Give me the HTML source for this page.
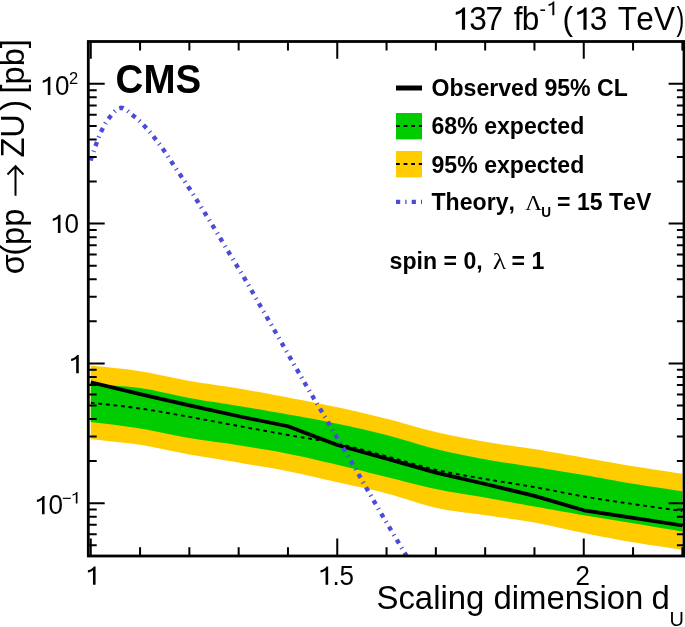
<!DOCTYPE html>
<html><head><meta charset="utf-8"><style>
html,body{margin:0;padding:0;background:#fff;}
body{width:685px;height:627px;overflow:hidden;}
svg{display:block;will-change:transform;}
text{font-family:"Liberation Sans",sans-serif;fill:#000;font-kerning:none;}
.b{font-weight:bold;}
.serif{font-family:"Liberation Serif",serif;}
</style></head><body>
<svg width="685" height="627" viewBox="0 0 685 627">
<defs><clipPath id="cp"><rect x="89" y="42" width="594" height="514"/></clipPath></defs>
<rect x="0" y="0" width="685" height="627" fill="#fff"/>
<g clip-path="url(#cp)">
<polygon points="90.76,365.50 94.56,365.91 99.62,366.43 105.64,367.04 112.33,367.74 119.41,368.52 126.58,369.36 133.56,370.26 140.06,371.20 146.22,372.24 152.39,373.39 158.55,374.64 164.71,375.93 170.87,377.24 177.03,378.53 183.20,379.76 189.36,380.90 195.52,381.94 201.68,382.91 207.85,383.84 214.01,384.74 220.17,385.64 226.34,386.55 232.50,387.50 238.66,388.50 244.82,389.55 250.99,390.64 257.15,391.74 263.31,392.87 269.47,394.01 275.63,395.17 281.80,396.33 287.96,397.50 294.12,398.67 300.28,399.83 306.45,401.01 312.61,402.19 318.77,403.40 324.93,404.63 331.10,405.90 337.26,407.20 343.42,408.54 349.58,409.91 355.75,411.30 361.91,412.73 368.07,414.18 374.23,415.66 380.40,417.16 386.56,418.70 392.72,420.30 398.89,421.98 405.05,423.71 411.21,425.46 417.37,427.19 423.54,428.88 429.70,430.49 435.86,432.00 442.02,433.41 448.19,434.75 454.35,436.04 460.51,437.27 466.67,438.46 472.84,439.61 479.00,440.72 485.16,441.80 491.32,442.82 497.49,443.77 503.65,444.66 509.81,445.53 515.97,446.38 522.13,447.24 528.30,448.14 534.46,449.10 540.62,450.11 546.78,451.16 552.95,452.23 559.11,453.33 565.27,454.43 571.43,455.53 577.60,456.62 583.76,457.70 589.92,458.77 596.09,459.86 602.25,460.94 608.41,462.02 614.57,463.09 620.73,464.15 626.90,465.19 633.06,466.20 639.56,467.24 646.54,468.32 653.71,469.42 660.79,470.48 667.48,471.48 673.50,472.38 678.56,473.13 682.36,473.70 682.36,549.70 678.56,549.14 673.50,548.41 667.48,547.55 660.79,546.58 653.71,545.54 646.54,544.46 639.56,543.37 633.06,542.30 626.90,541.24 620.73,540.13 614.57,539.00 608.41,537.84 602.25,536.65 596.09,535.45 589.92,534.23 583.76,533.00 577.60,531.73 571.43,530.41 565.27,529.05 559.11,527.68 552.95,526.33 546.78,525.01 540.62,523.76 534.46,522.60 528.30,521.53 522.13,520.54 515.97,519.61 509.81,518.71 503.65,517.84 497.49,516.98 491.32,516.10 485.16,515.20 479.00,514.32 472.84,513.51 466.67,512.73 460.51,511.94 454.35,511.09 448.19,510.14 442.02,509.06 435.86,507.80 429.70,506.31 423.54,504.62 417.37,502.77 411.21,500.84 405.05,498.87 398.89,496.94 392.72,495.09 386.56,493.40 380.40,491.85 374.23,490.37 368.07,488.96 361.91,487.59 355.75,486.24 349.58,484.91 343.42,483.57 337.26,482.20 331.10,480.80 324.93,479.38 318.77,477.95 312.61,476.54 306.45,475.14 300.28,473.78 294.12,472.46 287.96,471.20 281.80,470.01 275.63,468.87 269.47,467.78 263.31,466.73 257.15,465.69 250.99,464.67 244.82,463.64 238.66,462.60 232.50,461.57 226.34,460.55 220.17,459.56 214.01,458.56 207.85,457.56 201.68,456.54 195.52,455.49 189.36,454.40 183.20,453.24 177.03,452.00 170.87,450.73 164.71,449.44 158.55,448.17 152.39,446.95 146.22,445.82 140.06,444.80 133.56,443.87 126.58,442.99 119.41,442.16 112.33,441.40 105.64,440.71 99.62,440.11 94.56,439.60 90.76,439.20" fill="#ffcc00"/>
<polygon points="90.76,384.20 94.56,384.45 99.62,384.74 105.64,385.07 112.33,385.47 119.41,385.95 126.58,386.52 133.56,387.20 140.06,388.00 146.22,388.97 152.39,390.11 158.55,391.38 164.71,392.74 170.87,394.12 177.03,395.50 183.20,396.80 189.36,398.00 195.52,399.09 201.68,400.13 207.85,401.13 214.01,402.10 220.17,403.06 226.34,404.02 232.50,404.99 238.66,406.00 244.82,407.02 250.99,408.05 257.15,409.08 263.31,410.12 269.47,411.17 275.63,412.23 281.80,413.30 287.96,414.40 294.12,415.51 300.28,416.61 306.45,417.73 312.61,418.86 318.77,420.02 324.93,421.21 331.10,422.43 337.26,423.70 343.42,425.01 349.58,426.34 355.75,427.71 361.91,429.11 368.07,430.55 374.23,432.02 380.40,433.54 386.56,435.10 392.72,436.74 398.89,438.48 405.05,440.29 411.21,442.12 417.37,443.94 423.54,445.72 429.70,447.42 435.86,449.00 442.02,450.48 448.19,451.89 454.35,453.24 460.51,454.53 466.67,455.78 472.84,456.99 479.00,458.16 485.16,459.30 491.32,460.39 497.49,461.42 503.65,462.40 509.81,463.35 515.97,464.28 522.13,465.20 528.30,466.14 534.46,467.10 540.62,468.08 546.78,469.05 552.95,470.02 559.11,470.99 565.27,471.97 571.43,472.96 577.60,473.97 583.76,475.00 589.92,476.07 596.09,477.17 602.25,478.29 608.41,479.43 614.57,480.56 620.73,481.67 626.90,482.76 633.06,483.80 639.56,484.85 646.54,485.94 653.71,487.04 660.79,488.10 667.48,489.09 673.50,489.98 678.56,490.73 682.36,491.30 682.36,531.60 678.56,530.95 673.50,530.08 667.48,529.05 660.79,527.90 653.71,526.69 646.54,525.47 639.56,524.29 633.06,523.20 626.90,522.19 620.73,521.19 614.57,520.20 608.41,519.22 602.25,518.23 596.09,517.24 589.92,516.23 583.76,515.20 577.60,514.15 571.43,513.08 565.27,512.00 559.11,510.91 552.95,509.81 546.78,508.71 540.62,507.60 534.46,506.50 528.30,505.40 522.13,504.28 515.97,503.16 509.81,502.04 503.65,500.92 497.49,499.81 491.32,498.70 485.16,497.60 479.00,496.53 472.84,495.51 466.67,494.50 460.51,493.49 454.35,492.46 448.19,491.38 442.02,490.24 435.86,489.00 429.70,487.66 423.54,486.24 417.37,484.76 411.21,483.23 405.05,481.66 398.89,480.09 392.72,478.53 386.56,477.00 380.40,475.48 374.23,473.94 368.07,472.39 361.91,470.84 355.75,469.30 349.58,467.78 343.42,466.27 337.26,464.80 331.10,463.34 324.93,461.89 318.77,460.44 312.61,459.02 306.45,457.62 300.28,456.27 294.12,454.96 287.96,453.70 281.80,452.50 275.63,451.36 269.47,450.26 263.31,449.21 257.15,448.18 250.99,447.17 244.82,446.18 238.66,445.20 232.50,444.25 226.34,443.36 220.17,442.51 214.01,441.66 207.85,440.81 201.68,439.93 195.52,439.00 189.36,438.00 183.20,436.90 177.03,435.72 170.87,434.48 164.71,433.21 158.55,431.95 152.39,430.73 146.22,429.56 140.06,428.50 133.56,427.49 126.58,426.49 119.41,425.52 112.33,424.61 105.64,423.76 99.62,423.02 94.56,422.39 90.76,421.90" fill="#00cc00"/>
<polyline points="90.76,402.70 94.56,403.13 99.62,403.68 105.64,404.34 112.33,405.07 119.41,405.88 126.58,406.73 133.56,407.61 140.06,408.50 146.22,409.42 152.39,410.40 158.55,411.43 164.71,412.49 170.87,413.58 177.03,414.69 183.20,415.80 189.36,416.90 195.52,418.00 201.68,419.13 207.85,420.27 214.01,421.41 220.17,422.56 226.34,423.72 232.50,424.86 238.66,426.00 244.82,427.13 250.99,428.27 257.15,429.40 263.31,430.53 269.47,431.66 275.63,432.78 281.80,433.89 287.96,435.00 294.12,436.07 300.28,437.08 306.45,438.07 312.61,439.07 318.77,440.09 324.93,441.17 331.10,442.33 337.26,443.60 343.42,444.99 349.58,446.47 355.75,448.03 361.91,449.64 368.07,451.30 374.23,452.97 380.40,454.65 386.56,456.30 392.72,457.98 398.89,459.72 405.05,461.49 411.21,463.27 417.37,465.02 423.54,466.71 429.70,468.31 435.86,469.80 442.02,471.16 448.19,472.43 454.35,473.61 460.51,474.74 466.67,475.82 472.84,476.88 479.00,477.93 485.16,479.00 491.32,480.06 497.49,481.07 503.65,482.06 509.81,483.04 515.97,484.02 522.13,485.01 528.30,486.03 534.46,487.10 540.62,488.23 546.78,489.40 552.95,490.61 559.11,491.83 565.27,493.05 571.43,494.25 577.60,495.40 583.76,496.50 589.92,497.54 596.09,498.54 602.25,499.51 608.41,500.46 614.57,501.38 620.73,502.29 626.90,503.20 633.06,504.10 639.56,505.04 646.54,506.04 653.71,507.04 660.79,508.03 667.48,508.95 673.50,509.78 678.56,510.47 682.36,511.00" fill="none" stroke="#000" stroke-width="1.9" stroke-dasharray="3.8 3.8"/>
<polyline points="90.76,382.30 140.06,394.10 189.36,405.40 238.66,416.30 287.96,426.30 337.26,445.00 386.56,458.60 435.86,472.60 485.16,484.00 534.46,495.90 583.76,510.30 633.06,517.80 682.36,525.50" fill="none" stroke="#000" stroke-width="3.7" stroke-linejoin="round"/>
<polyline points="90.50,160.50 91.12,158.69 91.98,156.16 92.99,153.18 94.09,150.00 95.18,146.88 96.20,144.10 97.13,141.61 98.03,139.21 98.93,136.88 99.85,134.59 100.83,132.34 101.90,130.10 103.02,127.86 104.18,125.62 105.39,123.42 106.68,121.28 108.07,119.23 109.60,117.30 111.28,115.32 113.11,113.23 115.04,111.23 117.04,109.53 119.07,108.32 121.10,107.80 123.17,108.13 125.31,109.18 127.49,110.72 129.66,112.53 131.77,114.40 133.80,116.10 135.73,117.67 137.59,119.29 139.41,120.96 141.19,122.69 142.94,124.47 144.70,126.30 146.46,128.21 148.20,130.20 149.93,132.24 151.62,134.31 153.28,136.37 154.90,138.40 156.41,140.31 157.82,142.11 159.19,143.91 160.60,145.81 162.11,147.90 163.80,150.30 165.70,153.07 167.76,156.15 169.92,159.43 172.13,162.80 174.35,166.16 176.50,169.40 178.61,172.52 180.72,175.60 182.82,178.67 184.93,181.75 187.02,184.85 189.10,188.00 191.17,191.20 193.23,194.43 195.27,197.69 197.32,200.96 199.36,204.23 201.40,207.50 203.44,210.76 205.49,214.03 207.54,217.30 209.57,220.57 211.60,223.84 213.60,227.10 215.58,230.36 217.53,233.61 219.47,236.86 221.41,240.10 223.35,243.35 225.30,246.60 227.31,249.93 229.38,253.36 231.46,256.78 233.47,260.11 235.38,263.25 237.10,266.10 238.52,268.43 239.65,270.28 240.67,271.94 241.74,273.70 243.02,275.85 244.70,278.70 246.83,282.36 249.28,286.61 251.96,291.26 254.74,296.10 257.53,300.95 260.20,305.60 262.79,310.09 265.38,314.59 267.98,319.09 270.56,323.58 273.14,328.05 275.70,332.50 278.24,336.92 280.76,341.31 283.27,345.69 285.78,350.06 288.29,354.43 290.80,358.80 293.31,363.17 295.81,367.54 298.32,371.91 300.83,376.27 303.35,380.63 305.90,385.00 308.47,389.36 311.07,393.73 313.67,398.09 316.29,402.45 318.90,406.82 321.50,411.20 324.09,415.60 326.69,420.01 329.27,424.44 331.86,428.85 334.44,433.24 337.00,437.60 339.46,441.75 341.80,445.66 344.14,449.56 346.57,453.64 349.22,458.12 352.20,463.20 355.57,469.03 359.26,475.47 363.16,482.31 367.17,489.34 371.18,496.34 375.10,503.10 379.06,509.87 383.19,516.86 387.31,523.82 391.29,530.51 394.97,536.69 398.20,542.10 401.02,546.81 403.56,551.03 405.79,554.74 407.71,557.90 409.29,560.50 410.50,562.50" fill="none" stroke="#4b4bd8" stroke-width="4.4" stroke-dasharray="4.4 4.8 1.2 4.8"/>
</g>
<path d="M90.76,556 V538.40 M90.76,41.5 V58.70 M140.06,556 V547.20 M140.06,41.5 V50.40 M189.36,556 V547.20 M189.36,41.5 V50.40 M238.66,556 V547.20 M238.66,41.5 V50.40 M287.96,556 V547.20 M287.96,41.5 V50.40 M337.26,556 V538.40 M337.26,41.5 V58.70 M386.56,556 V547.20 M386.56,41.5 V50.40 M435.86,556 V547.20 M435.86,41.5 V50.40 M485.16,556 V547.20 M485.16,41.5 V50.40 M534.46,556 V547.20 M534.46,41.5 V50.40 M583.76,556 V538.40 M583.76,41.5 V58.70 M633.06,556 V547.20 M633.06,41.5 V50.40 M682.36,556 V547.20 M682.36,41.5 V50.40 M88.3,545.28 H96.70 M684,545.28 H676.90 M88.3,534.21 H96.70 M684,534.21 H676.90 M88.3,524.86 H96.70 M684,524.86 H676.90 M88.3,516.75 H96.70 M684,516.75 H676.90 M88.3,509.60 H96.70 M684,509.60 H676.90 M88.3,503.20 H104.70 M684,503.20 H668.60 M88.3,461.12 H96.70 M684,461.12 H676.90 M88.3,436.50 H96.70 M684,436.50 H676.90 M88.3,419.03 H96.70 M684,419.03 H676.90 M88.3,405.48 H96.70 M684,405.48 H676.90 M88.3,394.41 H96.70 M684,394.41 H676.90 M88.3,385.06 H96.70 M684,385.06 H676.90 M88.3,376.95 H96.70 M684,376.95 H676.90 M88.3,369.80 H96.70 M684,369.80 H676.90 M88.3,363.40 H104.70 M684,363.40 H668.60 M88.3,321.32 H96.70 M684,321.32 H676.90 M88.3,296.70 H96.70 M684,296.70 H676.90 M88.3,279.23 H96.70 M684,279.23 H676.90 M88.3,265.68 H96.70 M684,265.68 H676.90 M88.3,254.61 H96.70 M684,254.61 H676.90 M88.3,245.26 H96.70 M684,245.26 H676.90 M88.3,237.15 H96.70 M684,237.15 H676.90 M88.3,230.00 H96.70 M684,230.00 H676.90 M88.3,223.60 H104.70 M684,223.60 H668.60 M88.3,181.52 H96.70 M684,181.52 H676.90 M88.3,156.90 H96.70 M684,156.90 H676.90 M88.3,139.43 H96.70 M684,139.43 H676.90 M88.3,125.88 H96.70 M684,125.88 H676.90 M88.3,114.81 H96.70 M684,114.81 H676.90 M88.3,105.46 H96.70 M684,105.46 H676.90 M88.3,97.35 H96.70 M684,97.35 H676.90 M88.3,90.20 H96.70 M684,90.20 H676.90 M88.3,83.80 H104.70 M684,83.80 H668.60" stroke="#000" stroke-width="2" fill="none"/>
<rect x="88.3" y="41.5" width="595.7" height="514.5" fill="none" stroke="#000" stroke-width="2.8"/>

<!-- header -->
<g transform="translate(0,29.80) scale(1,1.030)"><text x="452.60 469.20 485.60 500.00 513.80 521.70" y="0" font-size="31.60"> 37 fb</text><path d="M295 0 L395 0 L395 683 L330 683 C290 612 220 568 100 544 L100 456 C190 476 255 505 295 544 Z" transform="translate(452.60,0) scale(0.03160,-0.03160)"/></g>
<g transform="translate(0,15.80) scale(1,1.030)"><text x="539.60" y="0" font-size="19.00">-</text></g>
<g transform="translate(0,15.20) scale(1,1.030)"><text x="546.60" y="0" font-size="19.50"> </text><path d="M295 0 L395 0 L395 683 L330 683 C290 612 220 568 100 544 L100 456 C190 476 255 505 295 544 Z" transform="translate(546.60,0) scale(0.01950,-0.01950)"/></g>
<g transform="translate(0,29.80) scale(1,1.030)"><text x="562.60 574.10 589.80 605.00 617.70 636.30 653.90" y="0" font-size="31.60">( 3 TeV</text><path d="M295 0 L395 0 L395 683 L330 683 C290 612 220 568 100 544 L100 456 C190 476 255 505 295 544 Z" transform="translate(574.10,0) scale(0.03160,-0.03160)"/></g>
<g transform="translate(676.5,29.8) scale(0.74,1.03)"><text x="0" y="0" font-size="31.6">)</text></g>
<g transform="translate(0,584.80) scale(1,1.030)"><text x="85.30" y="0" font-size="26.00"> </text><path d="M295 0 L395 0 L395 683 L330 683 C290 612 220 568 100 544 L100 456 C190 476 255 505 295 544 Z" transform="translate(85.30,0) scale(0.02600,-0.02600)"/></g>
<g transform="translate(0,584.80) scale(1,1.030)"><text x="317.90 332.40 339.50" y="0" font-size="26.00"> .5</text><path d="M295 0 L395 0 L395 683 L330 683 C290 612 220 568 100 544 L100 456 C190 476 255 505 295 544 Z" transform="translate(317.90,0) scale(0.02600,-0.02600)"/></g>
<g transform="translate(0,584.80) scale(1,1.030)"><text x="575.50" y="0" font-size="26.00">2</text></g>
<g transform="translate(0,95.00) scale(1,1.030)"><text x="40.10 55.06" y="0" font-size="26.00"> 0</text><path d="M295 0 L395 0 L395 683 L330 683 C290 612 220 568 100 544 L100 456 C190 476 255 505 295 544 Z" transform="translate(40.10,0) scale(0.02600,-0.02600)"/></g>
<g transform="translate(0,84.10) scale(1,1.030)"><text x="68.90" y="0" font-size="16.50">2</text></g>
<g transform="translate(0,233.10) scale(1,1.030)"><text x="50.20 64.56" y="0" font-size="26.00"> 0</text><path d="M295 0 L395 0 L395 683 L330 683 C290 612 220 568 100 544 L100 456 C190 476 255 505 295 544 Z" transform="translate(50.20,0) scale(0.02600,-0.02600)"/></g>
<g transform="translate(0,373.20) scale(1,1.030)"><text x="68.50" y="0" font-size="26.00"> </text><path d="M295 0 L395 0 L395 683 L330 683 C290 612 220 568 100 544 L100 456 C190 476 255 505 295 544 Z" transform="translate(68.50,0) scale(0.02600,-0.02600)"/></g>
<g transform="translate(0,514.20) scale(1,1.030)"><text x="34.30 48.46" y="0" font-size="26.00"> 0</text><path d="M295 0 L395 0 L395 683 L330 683 C290 612 220 568 100 544 L100 456 C190 476 255 505 295 544 Z" transform="translate(34.30,0) scale(0.02600,-0.02600)"/></g>
<g transform="translate(0,504.40) scale(1,1.030)"><text x="62.10" y="0" font-size="16.50">−</text></g>
<g transform="translate(0,503.50) scale(1,1.030)"><text x="70.95" y="0" font-size="16.50"> </text><path d="M295 0 L395 0 L395 683 L330 683 C290 612 220 568 100 544 L100 456 C190 476 255 505 295 544 Z" transform="translate(70.95,0) scale(0.01650,-0.01650)"/></g>
<g transform="translate(115.6,93.0) scale(1,1.075)"><text x="0" y="0" font-size="38.5" class="b">CMS</text></g>

<!-- legend -->
<line x1="396" y1="88" x2="422" y2="88" stroke="#000" stroke-width="5"/>
<rect x="396" y="113" width="26" height="26.4" fill="#00cc00"/>
<line x1="396" y1="126" x2="422" y2="126" stroke="#000" stroke-width="1.9" stroke-dasharray="3.8 3.8"/>
<rect x="396" y="151" width="26" height="26.4" fill="#ffcc00"/>
<line x1="396" y1="164" x2="422" y2="164" stroke="#000" stroke-width="1.9" stroke-dasharray="3.8 3.8"/>
<line x1="396" y1="201.8" x2="422" y2="201.8" stroke="#4b4bd8" stroke-width="4.2" stroke-dasharray="4.2 5.1 1.3 5.1"/>
<g transform="translate(431.5,96.3) scale(1,1.055)"><text x="0" y="0" font-size="23.1" class="b">Observed 95% CL</text></g>
<g transform="translate(431.5,133.9) scale(1,1.055)"><text x="0" y="0" font-size="23.1" class="b">68% expected</text></g>
<g transform="translate(431.5,172.6) scale(1,1.055)"><text x="0" y="0" font-size="23.1" class="b">95% expected</text></g>
<g transform="translate(431.5,209.8) scale(1,1.055)"><text x="0" y="0" font-size="23.1" class="b">Theory,</text>
<g transform="translate(93.8,0) scale(1,0.89)"><text x="0" y="0" font-size="23.1" class="serif">&#923;</text></g>
<text x="109.8" y="7" font-size="13.6" class="b">U</text>
<text x="125.5" y="0" font-size="23.1" class="b">= 15 TeV</text></g>
<g transform="translate(389.6,268.6) scale(1,1.055)"><text x="0" y="0" font-size="23.1" class="b">spin = 0,</text>
<g transform="translate(103.2,0) scale(1.2,0.95)"><text x="0" y="0" font-size="23.1" class="serif">&#955;</text></g>
<text x="122" y="0" font-size="23.1" class="b">= 1</text></g>

<!-- axis titles -->
<g transform="translate(376.5,608.8) scale(1,1.03)"><text x="0" y="0" font-size="32.9">Scaling dimension</text></g>
<g transform="translate(651.6,608.8) scale(1,1.03)"><text x="0" y="0" font-size="32.9">d</text></g>
<g transform="translate(669.6,625.6) scale(1,1.03)"><text x="0" y="0" font-size="20">U</text></g>
<g transform="translate(24.3,274.2) rotate(-90) scale(1,1.03)"><text x="0" y="0" font-size="32.6">&#963;<tspan dx="-1.7">(pp</tspan></text></g>
<g transform="translate(24.3,157.6) rotate(-90) scale(1,1.03)"><text x="0" y="0" font-size="32.6">ZU<tspan dx="3.4">)</tspan><tspan dx="-2.6"> [pb]</tspan></text></g>
<path d="M15.5,195.8 V166.6 M7.5,174.5 L15.5,166.3 L23.5,174.5" stroke="#000" stroke-width="2" fill="none"/>
</svg>
</body></html>
